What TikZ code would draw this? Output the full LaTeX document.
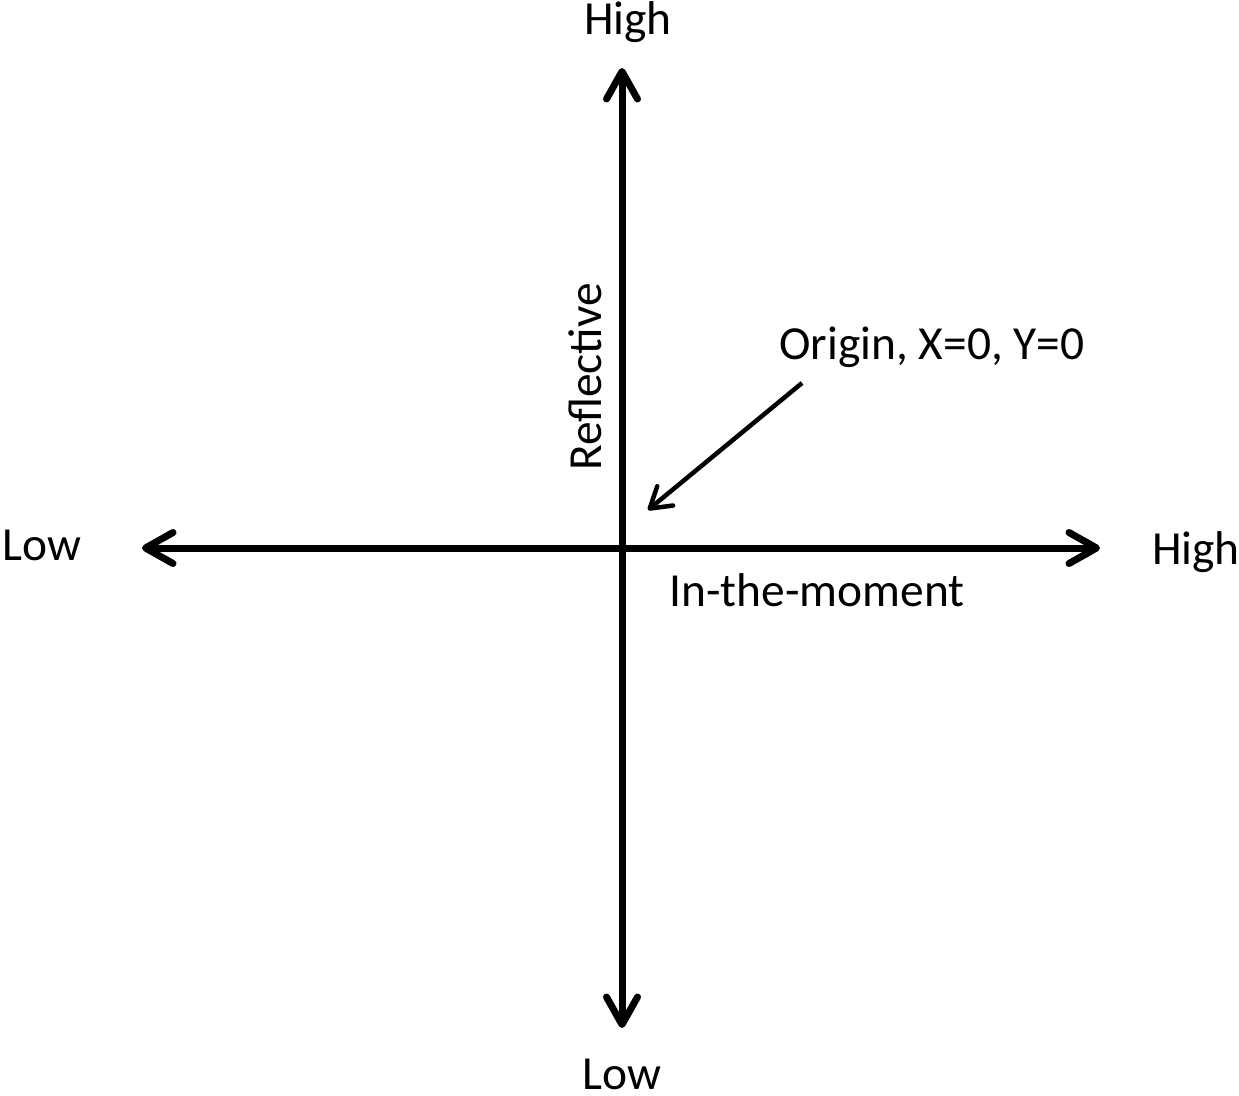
\documentclass[tikz,border=0pt]{standalone}
\usepackage{fontspec}
\setmainfont{Carlito}
\usetikzlibrary{arrows.meta}
\tikzset{x=0.02cm, y=-0.02cm, % one unit per pixel, y pointing down
every node/.style={ % Sets the properties for each label
font=\fontsize{27}{32}\selectfont,
inner sep=0pt},
axis/.style={ % The two main axes
draw, line width=0.14cm,
{Straight Barb[round,length=0.55cm,width=0.62cm]}-{Straight Barb[round,length=0.55cm,width=0.62cm]}},
pointer/.style={ % Thin arrow onto the origin
draw, line width=0.09cm,
-{Straight Barb[round,length=0.4cm,width=0.5cm]}}}

\begin{document}
\begin{tikzpicture}

    \useasboundingbox (0,0) rectangle (1239,1095);

    \coordinate (xlow) at (142,548);
    \coordinate (xhigh) at (1100,548);
    \coordinate (ylow) at (622,1028);
    \coordinate (yhigh) at (622,68);
    \coordinate (start) at (802,383);
    \coordinate (origin) at (648,510);

    \node (tophigh) at (628,22) {High};
    \node (leftlow) at (42,545) {Low};
    \node (righthigh) at (1196,552) {High};
    \node (bottomlow) at (622,1074) {Low};
    \node[rotate=90] (refl) at (585,377) {Reflective};
    \node (moment) at (817,590) {In-the-moment};
    \node (orig) at (932,347) {Origin, X=0, Y=0};

    \draw[axis] (xlow) -- (xhigh);
    \draw[axis] (ylow) -- (yhigh);
    \draw[pointer] (start) -- (origin);

\end{tikzpicture}
\end{document}
